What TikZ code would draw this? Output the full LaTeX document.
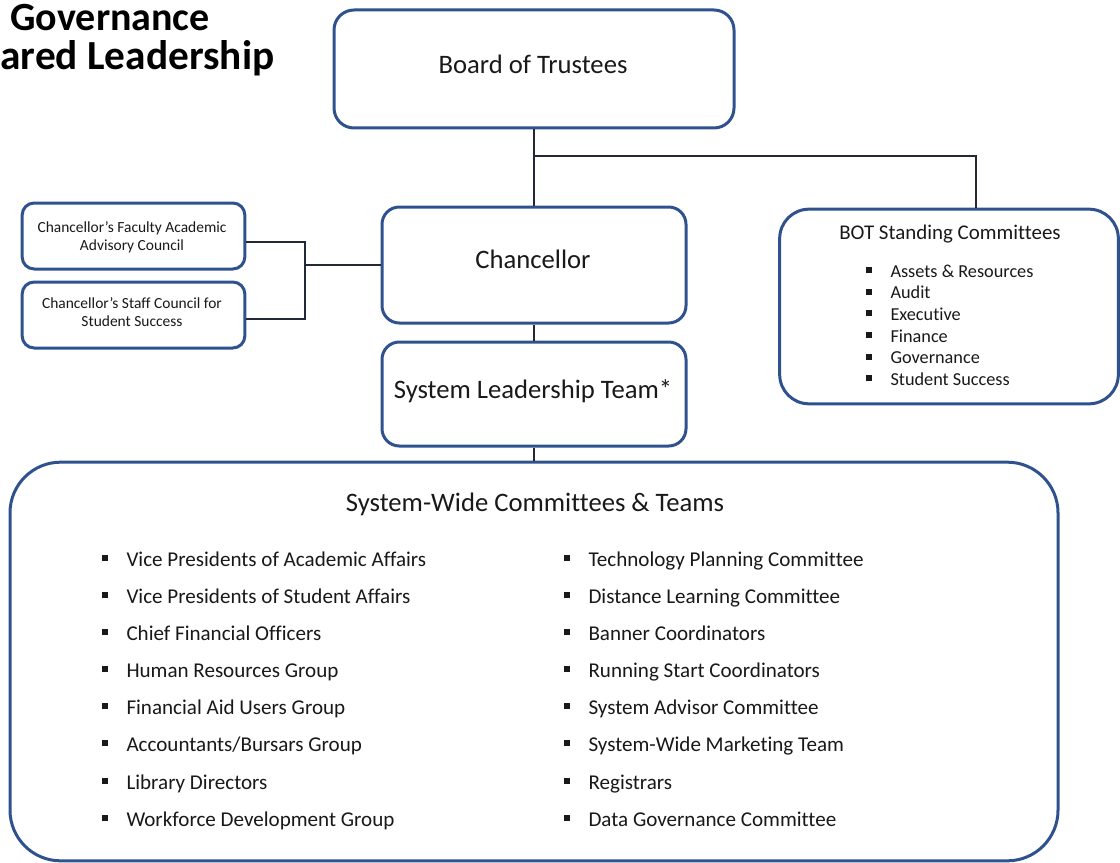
\documentclass[tikz,border=0pt]{standalone}
\usepackage{fontspec}
\setmainfont{Carlito}[Ligatures=NoCommon]
\usetikzlibrary{calc}
\tikzset{every picture/.style={line width=0.75pt}}
\definecolor{boxblue}{RGB}{47,82,143}
\definecolor{linkgray}{RGB}{35,40,55}
\definecolor{textgray}{RGB}{25,25,25}
\newcommand{\sqitem}{\makebox[18.75pt][l]{\rule[0.22em]{4.5pt}{4.5pt}}}

\begin{document}
\begin{tikzpicture}[x=0.75pt,y=0.75pt,yscale=-1,xscale=1,
  orgbox/.style={draw=boxblue, line width=2.25pt, fill=white, inner sep=0pt},
  boxtext/.style={anchor=base, inner sep=0pt, text=textgray, align=center, font=\fontsize{20pt}{24pt}\selectfont},
  smalltext/.style={inner sep=0pt, text=textgray, align=center, font=\fontsize{11.6pt}{13.5pt}\selectfont},
  link/.style={draw=linkgray, line width=1.1pt},
  itemtext/.style={anchor=base west, inner sep=0pt, text=textgray, font=\fontsize{15.8pt}{19pt}\selectfont},
  bottext/.style={anchor=base west, inner sep=0pt, text=textgray, font=\fontsize{13.7pt}{16.5pt}\selectfont}]
\useasboundingbox (0,0) rectangle (1120,863);

%Title
\node [anchor=base west, inner sep=0pt, font=\fontsize{30pt}{36pt}\bfseries\selectfont] (titleA) at (10,31) {Governance};
\node [anchor=base west, inner sep=0pt, font=\fontsize{31pt}{36pt}\bfseries\selectfont] (titleB) at (0,70) {ared Leadership};

%Shape: Rounded Rect
\node [orgbox, minimum width=300pt, minimum height=88.5pt, rounded corners=15pt] (board) at (534,69) {};
\node [boxtext] (boardtext) at (533,73.5) {Board of Trustees};
%Shape: Rounded Rect
\node [orgbox, minimum width=228pt, minimum height=87pt, rounded corners=13pt] (chancellor) at (534,265) {};
\node [boxtext] (chanctext) at (533,268.5) {Chancellor};
%Shape: Rounded Rect
\node [orgbox, minimum width=228pt, minimum height=78pt, rounded corners=13pt] (slt) at (534,394) {};
\node [boxtext] (slttext) at (533,398) {System Leadership Team*};
%Shape: Rounded Rect
\node [orgbox, minimum width=254pt, minimum height=146pt, rounded corners=22pt] (bot) at (949,306.5) {};
%Shape: Rounded Rect
\node [orgbox, minimum width=167pt, minimum height=49.5pt, rounded corners=9pt] (faculty) at (133.5,236) {};
\node [smalltext] (factext) at (132,237.5) {Chancellor’s Faculty Academic\\Advisory Council};
%Shape: Rounded Rect
\node [orgbox, minimum width=167pt, minimum height=49.5pt, rounded corners=9pt] (staff) at (133.5,315) {};
\node [smalltext] (stafftext) at (132,312) {Chancellor’s Staff Council for\\Student Success};
%Shape: Rounded Rect
\node [orgbox, minimum width=786pt, minimum height=299pt, rounded corners=38pt] (sw) at (534,661.5) {};

%Straight Lines
\coordinate (split) at (534,156);
\coordinate (fork) at (305,265);
\draw [link] (board.south) -- (chancellor.north);
\draw [link] (split) -| ([xshift=20.25pt]bot.north);
\draw [link] (chancellor.south) -- (slt.north);
\draw [link] (slt.south) -- (sw.north);
\draw [link] (chancellor.west) -- (fork);
\draw [link] ([yshift=4.5pt]faculty.east) -| (fork) |- ([yshift=3pt]staff.east);

% Text Node
\node [anchor=base, inner sep=0pt, text=textgray, font=\fontsize{15.7pt}{19pt}\selectfont] (bottitle) at (950,239) {BOT Standing Committees};
\node [bottext] (bot1) at (865,277) {\sqitem Assets \& Resources};
\node [bottext] (bot2) at (865,298.7) {\sqitem Audit};
\node [bottext] (bot3) at (865,320.4) {\sqitem Executive};
\node [bottext] (bot4) at (865,342.1) {\sqitem Finance};
\node [bottext] (bot5) at (865,363.8) {\sqitem Governance};
\node [bottext] (bot6) at (865,385.5) {\sqitem Student Success};

% Text Node
\node [boxtext] (swtitle) at (535,511) {System-Wide Committees \& Teams};
\node [itemtext] (left1) at (101,566) {\sqitem Vice Presidents of Academic Affairs};
\node [itemtext] (left2) at (101,603) {\sqitem Vice Presidents of Student Affairs};
\node [itemtext] (left3) at (101,640) {\sqitem Chief Financial Officers};
\node [itemtext] (left4) at (101,677) {\sqitem Human Resources Group};
\node [itemtext] (left5) at (101,714) {\sqitem Financial Aid Users Group};
\node [itemtext] (left6) at (101,751) {\sqitem Accountants/Bursars Group};
\node [itemtext] (left7) at (101,789) {\sqitem Library Directors};
\node [itemtext] (left8) at (101,826) {\sqitem Workforce Development Group};
\node [itemtext] (right1) at (563,566) {\sqitem Technology Planning Committee};
\node [itemtext] (right2) at (563,603) {\sqitem Distance Learning Committee};
\node [itemtext] (right3) at (563,640) {\sqitem Banner Coordinators};
\node [itemtext] (right4) at (563,677) {\sqitem Running Start Coordinators};
\node [itemtext] (right5) at (563,714) {\sqitem System Advisor Committee};
\node [itemtext] (right6) at (563,751) {\sqitem System-Wide Marketing Team};
\node [itemtext] (right7) at (563,789) {\sqitem Registrars};
\node [itemtext] (right8) at (563,826) {\sqitem Data Governance Committee};
\end{tikzpicture}
\end{document}
